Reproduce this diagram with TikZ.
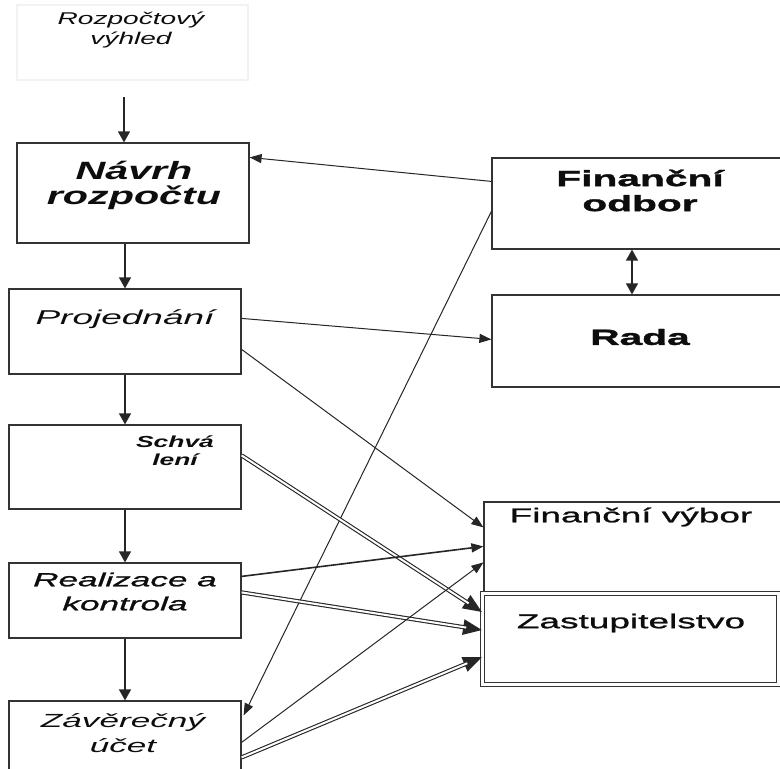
\documentclass[tikz,border=0pt]{standalone}
\usepackage{fontspec}
\setmainfont{Liberation Sans}
\newfontfamily\wideA[FakeStretch=1.65]{Liberation Sans}
\newfontfamily\wideB[FakeStretch=1.85]{Liberation Sans}
\newfontfamily\wideC[FakeStretch=1.85,FakeBold=1.2]{Liberation Sans}
\newfontfamily\wideD[FakeStretch=1.85,FakeBold=1.6]{Liberation Sans}
\usetikzlibrary{arrows.meta}

\begin{document}
\begin{tikzpicture}[x=1pt, y=-1pt,
    box/.style={draw=black!80, line width=1.2pt, fill=white, inner sep=0pt},
    txt/.style={align=center, inner sep=0pt, text=black!95},
    arr/.style={draw=black!85, line width=1pt, -{Triangle[length=12pt,width=9pt]}},
    down/.style={draw=black!85, line width=1.3pt, -{Triangle[length=11pt,width=12pt]}},
    bigtip/.style={draw=black!85, line width=3pt, -{Triangle[length=19pt,width=15pt]}},
    dbl/.style={draw=black!85, line width=1.1pt, double=white, double distance=2pt, shorten >=16pt}]
    \useasboundingbox (0,0) rectangle (780,769);
    \fill[white] (0,0) rectangle (780,769);

    % left column
    \node[box, draw=black!5, minimum width=231pt, minimum height=75pt] (rozp) at (132.5,42.5) {};
    \node[box, minimum width=232pt, minimum height=100pt] (navrh) at (133,193) {};
    \node[box, minimum width=232pt, minimum height=85pt] (proj) at (125,331.5) {};
    \node[box, minimum width=232pt, minimum height=84pt] (schv) at (125,467) {};
    \node[box, minimum width=232pt, minimum height=75pt] (real) at (125,600.5) {};
    \node[box, minimum width=232pt, minimum height=89pt] (zav) at (125,745.5) {};

    \node[txt, font=\wideA\itshape\fontsize{17}{20}\selectfont] (rozp-t) at (131,30) {Rozpočtový\\výhled};
    \node[txt, font=\wideA\bfseries\itshape\fontsize{25}{25}\selectfont] (navrh-t) at (134,185.5) {Návrh\\rozpočtu};
    \node[txt, font=\wideB\itshape\fontsize{20}{22}\selectfont] (proj-t) at (125,319) {Projednání};
    \node[txt, font=\wideA\bfseries\itshape\fontsize{16}{18}\selectfont] (schv-t) at (175,451) {Schvá\\lení};
    \node[txt, font=\wideC\itshape\fontsize{19}{24}\selectfont] (real-t) at (125,591.5) {Realizace a\\kontrola};
    \node[txt, font=\wideB\itshape\fontsize{19}{25}\selectfont] (zav-t) at (123,733.5) {Závěrečný\\účet};

    % right column
    \node[box, minimum width=296pt, minimum height=91pt] (odbor) at (640,203.5) {};
    \node[box, minimum width=296pt, minimum height=92pt] (rada) at (640,341) {};
    \node[box, minimum width=302pt, minimum height=90pt] (vybor) at (635,547) {};
    \node[box, line width=0.9pt, double=white, double distance=2.4pt,
        minimum width=296pt, minimum height=91pt] (zast) at (630.5,639) {};

    \node[txt, font=\wideD\bfseries\fontsize{22}{25}\selectfont] (odbor-t) at (640,190.5) {Finanční\\odbor};
    \node[txt, font=\wideD\bfseries\fontsize{22}{25}\selectfont] (rada-t) at (640,337) {Rada};
    \node[txt, font=\wideC\fontsize{20}{22}\selectfont] (vybor-t) at (631,517) {Finanční výbor};
    \node[txt, font=\wideC\fontsize{20}{22}\selectfont] (zast-t) at (631,623) {Zastupitelstvo};

    % down the left column
    \coordinate (start) at (124,97);
    \draw[down] (start) -- (start |- navrh.north);
    \draw[down] (navrh.south -| proj.north) -- (proj.north);
    \draw[down] (proj.south) -- (schv.north);
    \draw[down] (schv.south) -- (real.north);
    \draw[down] (real.south) -- (zav.north);

    % odbor and rada
    \draw[arr] ([yshift=-24pt]odbor.north west) -- ([yshift=-15pt]navrh.north east);
    \draw[arr] ([yshift=-54pt]odbor.north west) -- ([xshift=2pt,yshift=-15pt]zav.north east);
    \draw[down, {Triangle[length=11pt,width=12pt]}-{Triangle[length=11pt,width=12pt]}]
        ([xshift=-8pt]odbor.south) -- ([xshift=-8pt]rada.north);
    \draw[arr] ([yshift=-30pt]proj.north east) -- ([yshift=-45pt]rada.north west);

    % into vybor and zast
    \draw[arr] ([yshift=-61pt]proj.north east) -- ([yshift=-26pt]vybor.north west);
    \draw[bigtip] ([yshift=-31pt]schv.north east) -- ([yshift=-19pt]zast.north west);
    \draw[dbl] ([yshift=-31pt]schv.north east) -- ([yshift=-19pt]zast.north west);
    \draw[arr, line width=1.6pt] ([yshift=-14pt]real.north east) -- ([yshift=-45pt]vybor.north west);
    \draw[bigtip] ([yshift=-30pt]real.north east) -- ([yshift=-37pt]zast.north west);
    \draw[dbl] ([yshift=-30pt]real.north east) -- ([yshift=-37pt]zast.north west);
    \draw[arr] ([yshift=-42pt]zav.north east) -- ([yshift=-61pt]vybor.north west);
    \draw[bigtip] ([yshift=-57pt]zav.north east) -- ([yshift=-64pt]zast.north west);
    \draw[dbl] ([yshift=-57pt]zav.north east) -- ([yshift=-64pt]zast.north west);
\end{tikzpicture}
\end{document}
